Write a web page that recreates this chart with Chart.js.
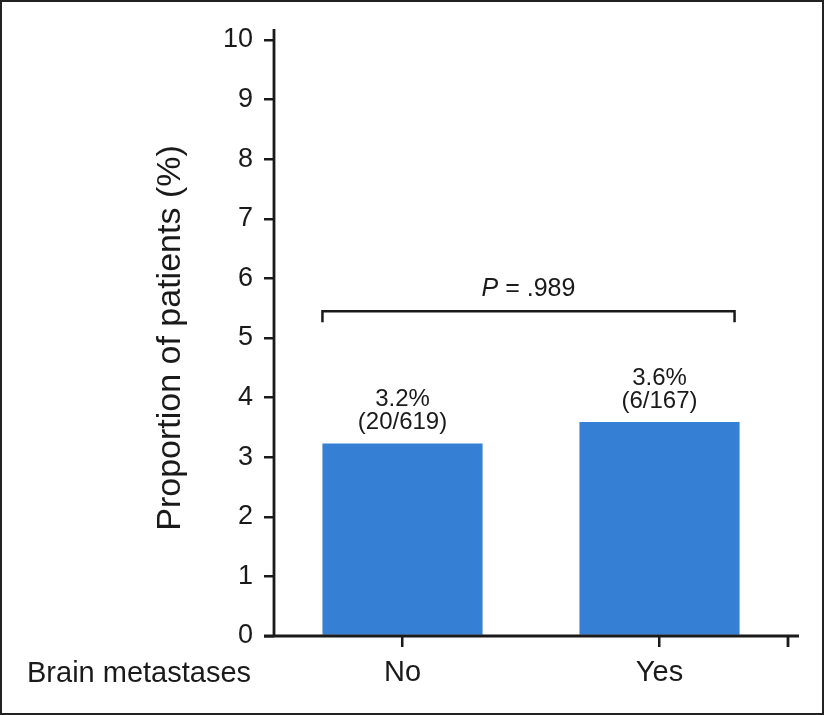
<!DOCTYPE html>
<html>
<head>
<meta charset="utf-8">
<script src="https://cdn.jsdelivr.net/npm/chart.js@4.4.1/dist/chart.umd.min.js"></script>
<style>
  html, body { margin: 0; padding: 0; background: #fff; }
  canvas { display: block; }
</style>
</head>
<body>
<canvas id="grafik" width="824" height="715"></canvas>
<script>
// data
const categories = ['No', 'Yes'];
const proportions = [3.23, 3.59];
const percentLabels = ['3.2%', '3.6%'];
const countLabels = ['(20/619)', '(6/167)'];
const yTickValues = [0, 1, 2, 3, 4, 5, 6, 7, 8, 9, 10];
const xGroupTitle = 'Brain metastases';
const yTitle = 'Proportion of patients (%)';
const pValue = '.989';
const bracketLevel = 5.45;
const pLabelLevel = 5.82;

const INK = '#1a1a1a';
const BAR = '#3580d5';
const FONT = '"Liberation Sans", Arial, Helvetica, sans-serif';

const extras = {
    id: 'extras',
    afterDraw(chart) {
        const ctx = chart.ctx;
        const y = chart.scales.y;
        const area = chart.chartArea;
        const bars = chart.getDatasetMeta(0).data;
        ctx.save();
        ctx.strokeStyle = INK;
        ctx.fillStyle = INK;
        ctx.lineWidth = 2.8;
        ctx.lineCap = 'butt';

        // axes
        ctx.beginPath();
        ctx.moveTo(area.left, area.top - 11);
        ctx.lineTo(area.left, area.bottom);
        ctx.moveTo(area.left - 10, area.bottom);
        ctx.lineTo(area.right + 11, area.bottom);
        // closing tick at the end of the x axis
        ctx.moveTo(area.right, area.bottom);
        ctx.lineTo(area.right, area.bottom + 11);
        ctx.stroke();

        // significance bracket
        const bx1 = bars[0].x - bars[0].width / 2;
        const bx2 = bars[1].x + bars[1].width / 2 - 5;
        const by = y.getPixelForValue(bracketLevel);
        ctx.lineWidth = 2.5;
        ctx.beginPath();
        ctx.moveTo(bx1, by + 11);
        ctx.lineTo(bx1, by);
        ctx.lineTo(bx2, by);
        ctx.lineTo(bx2, by + 11);
        ctx.stroke();

        // P value text, italic P
        ctx.textBaseline = 'middle';
        const py = y.getPixelForValue(pLabelLevel);
        const pItalic = 'italic 25px ' + FONT;
        const pRest = '25px ' + FONT;
        const rest = ' = ' + pValue;
        ctx.font = pItalic;
        const w1 = ctx.measureText('P').width;
        ctx.font = pRest;
        const w2 = ctx.measureText(rest).width;
        const cx = (bx1 + bx2) / 2;
        ctx.textAlign = 'left';
        ctx.font = pItalic;
        ctx.fillText('P', cx - (w1 + w2) / 2, py);
        ctx.font = pRest;
        ctx.fillText(rest, cx - (w1 + w2) / 2 + w1, py);

        // labels above bars
        ctx.textAlign = 'center';
        ctx.font = '24px ' + FONT;
        bars.forEach((bar, i) => {
            ctx.fillText(countLabels[i], bar.x, bar.y - 21);
            ctx.fillText(percentLabels[i], bar.x, bar.y - 44);
        });

        // group title on the category row
        ctx.textAlign = 'left';
        ctx.font = '29px ' + FONT;
        ctx.fillText(xGroupTitle, 27, area.bottom + 38);

        // frame round the figure
        ctx.lineWidth = 2;
        ctx.strokeStyle = '#222';
        ctx.strokeRect(1, 1, chart.width - 2, chart.height - 2);
        ctx.restore();
    }
};

new Chart(document.getElementById('grafik').getContext('2d'), {
    type: 'bar',
    data: {
        labels: categories,
        datasets: [{
            data: proportions,
            backgroundColor: BAR,
            borderWidth: 0,
            categoryPercentage: 1,
            barPercentage: 0.623
        }]
    },
    options: {
        responsive: false,
        animation: false,
        devicePixelRatio: 1,
        layout: { padding: { left: 146, right: 36, top: 40, bottom: 0 } },
        plugins: { legend: { display: false }, tooltip: { enabled: false } },
        scales: {
            x: {
                offset: true,
                grid: { offset: false, drawOnChartArea: false, drawTicks: true, tickLength: 11, color: INK, lineWidth: 2.5 },
                border: { display: false },
                ticks: { color: INK, font: { family: FONT, size: 29 }, padding: 9 },
                afterFit(scale) { scale.height = 79; }
            },
            y: {
                min: 0,
                max: 10,
                afterBuildTicks(scale) { scale.ticks = yTickValues.map(v => ({ value: v })); },
                grid: { drawOnChartArea: false, drawTicks: true, tickLength: 10, color: INK, lineWidth: 2.5 },
                border: { display: false },
                ticks: { color: INK, font: { family: FONT, size: 27 }, padding: 11 },
                title: {
                    display: true,
                    text: yTitle,
                    color: INK,
                    font: { family: FONT, size: 34 },
                    padding: { top: 4, bottom: 4 }
                },
                afterFit(scale) { scale.width = 128; }
            }
        }
    },
    plugins: [extras]
});
</script>
</body>
</html>
